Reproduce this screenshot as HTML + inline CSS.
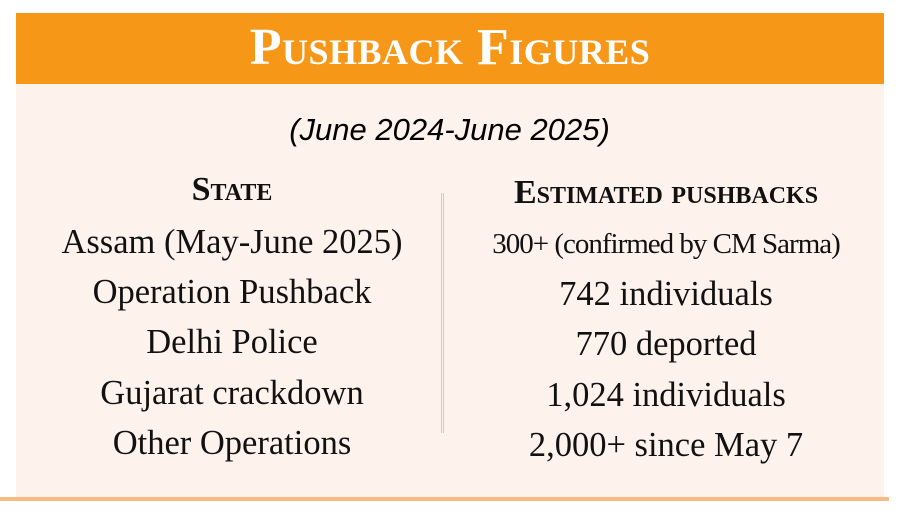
<!DOCTYPE html>
<html><head><style>
body{margin:0;width:899px;height:515px;background:#fff;position:relative;overflow:hidden;font-family:"Liberation Serif",serif;}
.hdr{position:absolute;left:16px;top:13px;width:868px;height:71px;background:#f79717;}
.hdr div{position:absolute;left:0;right:0;top:9px;text-align:center;color:#fff;font-weight:bold;font-size:52px;line-height:52px;font-variant:small-caps;letter-spacing:0.5px;}
.panel{position:absolute;left:16px;top:84px;width:868px;height:413px;background:#fdf3ec;}
.bot{position:absolute;left:0;top:497px;width:889px;height:4px;background:#f8bb84;}
.sub{position:absolute;left:0;width:899px;top:112px;text-align:center;font-family:"Liberation Sans",sans-serif;font-style:italic;font-size:31px;line-height:36px;}
.col{position:absolute;text-align:center;color:#111;}
.h{font-weight:bold;font-variant:small-caps;font-size:34px;line-height:34px;position:absolute;left:0;right:0;}
.r{font-size:34.5px;line-height:36px;position:absolute;left:0;right:0;white-space:nowrap;}
.div{position:absolute;left:441px;top:193px;width:1px;height:240px;border-left:1px solid #f0c0a0;border-right:1px solid #f0c0a0;}
</style></head><body>
<div class="hdr"><div>Pushback Figures</div></div>
<div class="panel"></div>
<div class="bot"></div>
<div class="sub">(June 2024-June 2025)</div>
<div class="div"></div>
<div class="col" style="left:32px;width:400px;top:0;height:515px;">
<div class="h" style="top:173px">State</div>
<div class="r" style="top:224px">Assam (May-June 2025)</div>
<div class="r" style="top:274px">Operation Pushback</div>
<div class="r" style="top:324px">Delhi Police</div>
<div class="r" style="top:375px">Gujarat crackdown</div>
<div class="r" style="top:425px">Other Operations</div>
</div>
<div class="col" style="left:466px;width:400px;top:0;height:515px;">
<div class="h" style="top:176px">Estimated pushbacks</div>
<div class="r" style="top:226px;font-size:29px;letter-spacing:-1px">300+ (confirmed by CM Sarma)</div>
<div class="r" style="top:276px">742 individuals</div>
<div class="r" style="top:326px">770 deported</div>
<div class="r" style="top:377px">1,024 individuals</div>
<div class="r" style="top:427px">2,000+ since May 7</div>
</div>
</body></html>
